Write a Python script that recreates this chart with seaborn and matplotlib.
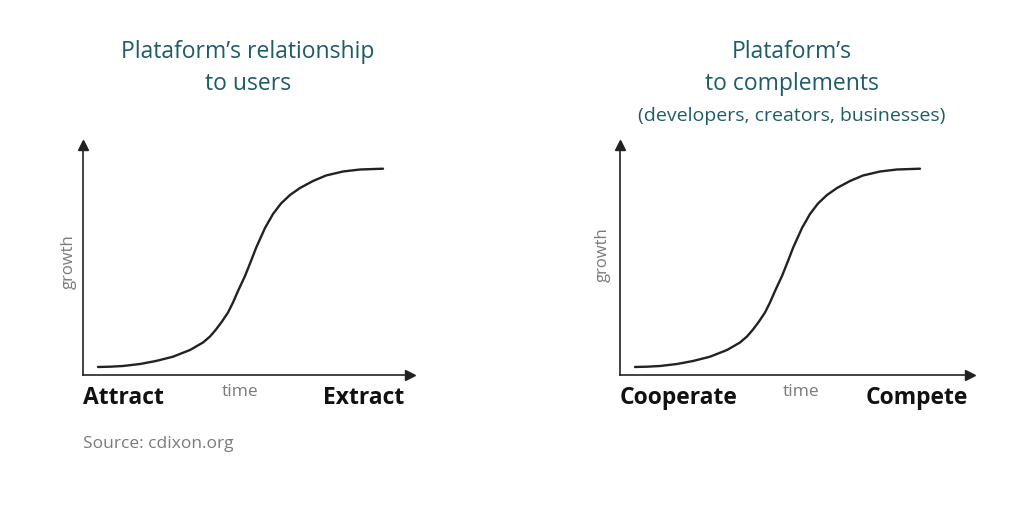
import matplotlib
matplotlib.use("Agg")
import matplotlib.pyplot as plt
import seaborn as sns
import pandas as pd

# S-curve (time offset, growth offset)
time = [15, 27, 40, 57, 73, 90, 107, 120, 127, 133, 139, 145, 150, 155, 162, 168, 173, 182,
        190, 198, 207, 217, 230, 243, 260, 277, 300]
growth = [8, 8.3, 9, 11, 14, 18.3, 25, 32.5, 38.5, 45.5, 53.5, 62.5, 72.5, 84, 99, 114, 127, 147,
          161, 171.5, 180, 187, 194, 199.5, 203.5, 205.5, 206.3]

titles = [["Plataform\u2019s relationship", "to users"],
          ["Plataform\u2019s", "to complements"]]
subtitle = "(developers, creators, businesses)"
left_labels = ["Attract", "Cooperate"]
right_labels = ["Extract", "Compete"]
source = "Source: cdixon.org"

sns.set_theme(style="white")
plt.rcParams['font.family'] = ['Open Sans', 'DejaVu Sans']

W, H = 1024, 508
fig = plt.figure(figsize=(W / 100, H / 100), dpi=100)
fig.patch.set_facecolor("white")

TEAL = "#1e5c68"
GRAY = "#7a7a7a"

def fx(px):
    return px / W

def fy(py):
    return 1 - py / H

panels = [dict(x0=83, x1=410, xmax=327), dict(x0=620, x1=970, xmax=350)]
y_top, y_bot = 145, 375

df = pd.DataFrame({"time": time, "growth": growth})

axes = []
for i, p in enumerate(panels):
    ax = fig.add_axes([fx(p["x0"]), fy(y_bot), fx(p["x1"] - p["x0"]), (y_bot - y_top) / H])
    sns.lineplot(data=df, x="time", y="growth", ax=ax, color="#222222", linewidth=1.7)
    ax.set_xlim(0, p["xmax"])
    ax.set_ylim(0, 230)
    ax.set_xticks([])
    ax.set_yticks([])
    ax.set_xlabel("")
    ax.set_ylabel("")
    for s in ["top", "right"]:
        ax.spines[s].set_visible(False)
    for s in ["left", "bottom"]:
        ax.spines[s].set_color("#222222")
        ax.spines[s].set_linewidth(1.2)
    ax.plot(1, 0, ">", color="#222222", markersize=7, transform=ax.transAxes, clip_on=False)
    ax.plot(0, 1, "^", color="#222222", markersize=7, transform=ax.transAxes, clip_on=False)
    axes.append(ax)

# Titles
TS = 16.5
fig.text(fx(248), fy(52), titles[0][0], ha="center", va="center", color=TEAL, fontsize=TS)
fig.text(fx(248), fy(84), titles[0][1], ha="center", va="center", color=TEAL, fontsize=TS)
fig.text(fx(792), fy(52), titles[1][0], ha="center", va="center", color=TEAL, fontsize=TS)
fig.text(fx(792), fy(84), titles[1][1], ha="center", va="center", color=TEAL, fontsize=TS)
fig.text(fx(792), fy(116), subtitle, ha="center", va="center", color=TEAL, fontsize=14)

# Axis labels
fig.text(fx(69), fy(262), "growth", rotation=90, ha="center", va="center", color=GRAY, fontsize=12)
fig.text(fx(603), fy(255), "growth", rotation=90, ha="center", va="center", color=GRAY, fontsize=12)
fig.text(fx(240), fy(392), "time", ha="center", va="center", color=GRAY, fontsize=12.5)
fig.text(fx(801), fy(392), "time", ha="center", va="center", color=GRAY, fontsize=12.5)

BS = 16.5
fig.text(fx(83), fy(398), left_labels[0], ha="left", va="center", color="#111111", fontsize=BS, fontweight="bold")
fig.text(fx(404), fy(398), right_labels[0], ha="right", va="center", color="#111111", fontsize=BS, fontweight="bold")
fig.text(fx(620), fy(398), left_labels[1], ha="left", va="center", color="#111111", fontsize=BS, fontweight="bold")
fig.text(fx(968), fy(398), right_labels[1], ha="right", va="center", color="#111111", fontsize=BS, fontweight="bold")

fig.text(fx(83), fy(444), source, ha="left", va="center", color=GRAY, fontsize=12.5)

fig.savefig("out.png", dpi=100, facecolor="white")
